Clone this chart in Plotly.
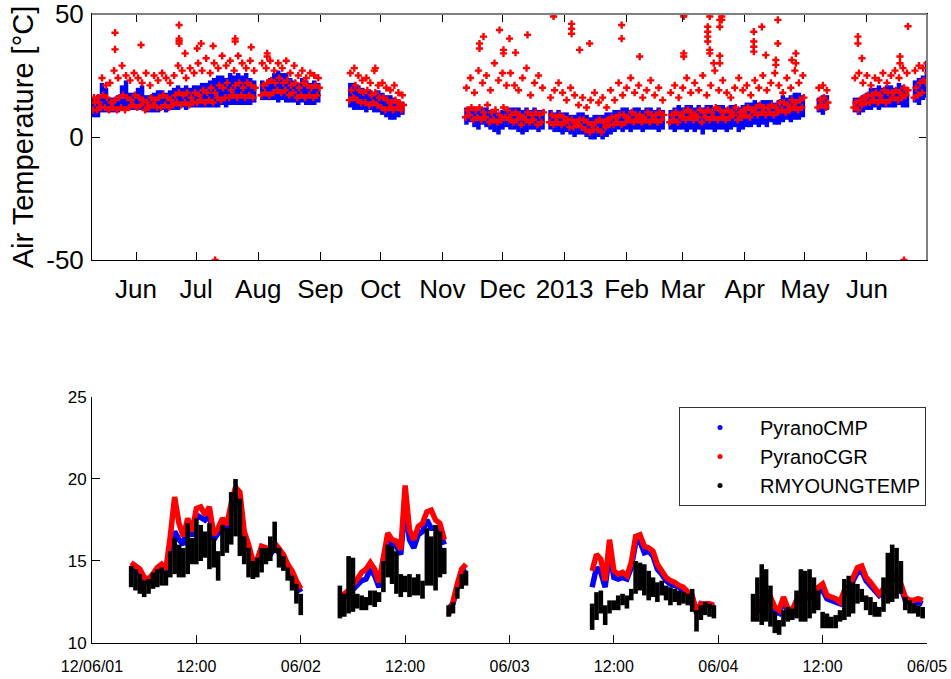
import pandas as pd
import plotly.graph_objects as go

# ---------------- TOP PANEL DATA (2-day bins from 2012-05-10) ----------------
top_start = "2012-05-10"
N = None
blue_lo = [8, 8, 10, 10, 10, 10, 10, 11, 11, 11,
           11, 11, 11, 10, 10, 10, 10, 11, 10, 11,
           11, 11, 12, 11, 12, 12, 12, 12, 12, 12,
           12, 12, 13, 12, 13, 13, 13, 13, 13, 13,
           14, N, 15, 15, 15, 15, 14, 15, 14, 14,
           14, 13, 14, 13, 13, 13, 14, N, N, N,
           N, N, N, N, 12, 11, 11, 11, 10, 11,
           10, 10, 9, 8, 7, 7, 8, 9, N, N,
           N, N, N, N, N, N, N, N, N, N,
           N, N, N, 5, 6, 4, 3, 5, 4, 3,
           2, 1, 3, 4, 3, 3, 2, 1, 2, 3,
           3, 2, 3, N, 3, 2, 2, 1, 2, 1,
           0, 1, 1, 0, -1, -1, 0, -1, 0, 1,
           2, 3, 2, 3, 2, 3, 3, 2, 3, 3,
           3, 2, 3, N, 3, 2, 3, 3, 2, 3,
           2, 3, 1, 3, 3, 2, 3, 3, 2, 3,
           4, 2, 3, 4, 4, 5, 4, 5, 4, 6,
           5, 5, 6, 7, 6, 7, 7, 8, N, N,
           N, 10, 9, 11, N, N, N, N, N, N,
           10, 9, 10, 11, 11, 12, 11, 12, 12, 12,
           12, 13, 12, 12, N, 14, 13, 15, 16]
blue_hi = [16, 17, 22, 20, 16, 16, 17, 21, 23, 18,
           18, 20, 21, 17, 17, 18, 19, 19, 18, 19,
           20, 21, 20, 21, 20, 21, 21, 22, 22, 23,
           24, 25, 25, 24, 26, 25, 26, 25, 26, 24,
           23, N, 23, 22, 24, 26, 27, 26, 26, 24,
           23, 22, 24, 23, 22, 23, 22, N, N, N,
           N, N, N, N, 22, 22, 21, 20, 19, 19,
           18, 19, 18, 17, 17, 16, 15, 14, N, N,
           N, N, N, N, N, N, N, N, N, N,
           N, N, N, 12, 12, 12, 11, 12, 12, 11,
           11, 10, 11, 11, 12, 12, 12, 11, 12, 11,
           12, 11, 11, N, 11, 10, 11, 10, 10, 9,
           9, 10, 10, 9, 8, 9, 9, 9, 10, 10,
           11, 11, 12, 12, 11, 12, 12, 11, 12, 12,
           11, 12, 11, N, 11, 12, 13, 12, 13, 13,
           12, 13, 12, 13, 13, 12, 13, 13, 12, 13,
           13, 12, 13, 14, 14, 15, 14, 15, 15, 15,
           14, 15, 17, 16, 17, 18, 18, 17, N, N,
           N, 16, 17, 17, N, N, N, N, N, N,
           16, 16, 17, 18, 20, 20, 21, 20, 21, 21,
           20, 22, 21, 20, N, 23, 24, 25, 31]
red_a = [11, 11, 12, 12, 11, 12, 11, 12, 11, 12,
         13, 12, 13, 11, 12, 13, 12, 12, 13, 12,
         13, 14, 13, 14, 13, 14, 14, 15, 14, 15,
         14, 16, 15, 16, 16, 17, 16, 17, 16, 17,
         16, N, 17, 18, 17, 18, 19, 18, 19, 17,
         18, 16, 17, 16, 17, 16, 17, N, N, N,
         N, N, N, N, 15, 16, 15, 14, 14, 13,
         14, 13, 12, 11, 12, 11, 12, 11, N, N,
         N, N, N, N, N, N, N, N, N, N,
         N, N, N, 8, 9, 7, 8, 7, 8, 6,
         7, 6, 7, 8, 7, 6, 7, 5, 7, 6,
         7, 5, 6, N, 6, 5, 6, 5, 6, 4,
         4, 5, 4, 3, 2, 3, 3, 2, 4, 5,
         5, 6, 5, 6, 7, 6, 7, 6, 7, 6,
         7, 6, 7, N, 6, 7, 6, 8, 7, 8,
         7, 8, 6, 8, 7, 8, 7, 8, 7, 8,
         9, 7, 8, 9, 8, 10, 9, 10, 9, 10,
         9, 10, 11, 10, 11, 12, 11, 12, N, N,
         N, 12, 13, 12, N, N, N, N, N, N,
         12, 11, 13, 14, 14, 15, 14, 15, 14, 15,
         16, 15, 16, 17, N, 16, 17, 18, 22]
red_b = [14, 14, 17, 16, 14, 15, 16, 17, 16, 15,
         17, 16, 15, 14, 16, 15, 16, 17, 16, 15,
         17, 18, 17, 18, 16, 18, 17, 19, 18, 20,
         18, 21, 20, 22, 19, 21, 22, 20, 22, 21,
         20, N, 21, 22, 23, 22, 24, 22, 23, 21,
         22, 20, 22, 21, 20, 21, 20, N, N, N,
         N, N, N, N, 19, 21, 19, 18, 19, 17,
         18, 16, 16, 15, 14, 15, 14, 13, N, N,
         N, N, N, N, N, N, N, N, N, N,
         N, N, N, 11, 12, 11, 12, 10, 13, 10,
         11, 9, 12, 11, 9, 10, 9, 8, 10, 9,
         10, 9, 10, N, 9, 8, 9, 8, 7, 7,
         6, 7, 7, 6, 5, 6, 7, 6, 7, 8,
         8, 9, 9, 8, 10, 9, 9, 8, 10, 9,
         9, 10, 9, N, 9, 10, 9, 10, 11, 10,
         9, 11, 10, 11, 10, 12, 11, 10, 11, 10,
         12, 10, 11, 12, 11, 12, 13, 12, 12, 13,
         12, 14, 14, 13, 15, 14, 15, 16, N, N,
         N, 15, 16, 14, N, N, N, N, N, N,
         14, 15, 16, 17, 17, 18, 17, 19, 18, 18,
         19, 18, 20, 19, N, 20, 22, 23, 26]
red_c = [16, 16, 24, 21, 22, 27, 24, 29, 25, 23,
         26, 24, 22, 26, 21, 25, 23, 26, 24, 22,
         25, 29, 27, 24, 28, 26, 30, 27, 32, 26,
         30, 28, 33, 29, 31, 27, 33, 30, 28, 31,
         27, N, 30, 28, 31, 27, 30, 28, 31, 26,
         29, 25, 27, 24, 26, 25, 24, N, N, N,
         N, N, N, N, 26, 28, 25, 23, 24, 22,
         27, 21, 22, 20, 19, 21, 18, 17, N, N,
         N, N, N, N, N, N, N, N, N, N,
         N, N, N, 20, 24, 18, 27, 22, 25, 19,
         30, 23, 26, 21, 26, 21, 19, 24, 28, 17,
         22, 25, 20, N, 16, 19, 22, 18, 15, 20,
         17, 13, 16, 12, 15, 18, 14, 16, 12, 19,
         15, 22, 17, 20, 24, 18, 21, 16, 19, 23,
         17, 20, 15, N, 18, 21, 16, 20, 24, 18,
         22, 19, 25, 17, 21, 27, 19, 23, 18, 16,
         20, 24, 19, 21, 17, 23, 20, 25, 19, 22,
         26, 21, 18, 24, 20, 27, 22, 25, N, N,
         N, 20, 21, 19, N, N, N, N, N, N,
         24, 26, 22, 25, 21, 24, 23, 26, 22, 25,
         27, 24, 28, 26, N, 27, 29, 28, 30]
red_out_dates = ["2012-05-21", "2012-06-03", "2012-06-22", "2012-06-25", "2012-07-01",
                 "2012-07-03", "2012-07-09", "2012-07-10", "2012-07-20", "2012-07-28",
                 "2012-08-05", "2012-09-28", "2012-11-19", "2012-11-21", "2012-11-29",
                 "2012-12-01", "2012-12-04", "2012-12-07", "2012-12-13", "2012-12-26",
                 "2013-01-04", "2013-01-08", "2013-01-13", "2013-01-29", "2013-02-07",
                 "2013-03-01", "2013-03-13", "2013-03-14", "2013-03-16", "2013-03-19",
                 "2013-03-20", "2013-04-05", "2013-04-09", "2013-04-11", "2013-04-16",
                 "2013-04-17", "2013-04-24", "2013-04-26", "2013-05-27", "2013-05-29",
                 "2013-06-17", "2013-06-19", "2013-06-21"]
red_out_vals = [[42.4, 35.6], [37.4], [45.5, 40, 39, 38], [34], [36],
                [38], [37], [-50], [40, 38.8], [36.5],
                [34, 32.7], [28], [38, 36], [40.8], [43.5],
                [35.4, 34], [40], [34.3], [41.5], [49],
                [46, 44, 42], [35.4], [38], [45.5, 40], [32.7],
                [49.8, 49, 34, 32.7], [44.8, 42.8, 40.8, 38.8], [49, 35.4, 34], [30], [47.6, 44.8, 33, 30],
                [49, 47.6], [42.8, 38.8, 36.7, 34.7], [44.8], [33.3], [31.3, 29.3],
                [47.6, 38], [31.3], [34, 30], [40.8, 38], [32],
                [32.7, 30], [-50], [45]]

top_tick_dates = ["2012-06-01", "2012-07-01", "2012-08-01", "2012-09-01", "2012-10-01",
                  "2012-11-01", "2012-12-01", "2013-01-01", "2013-02-01", "2013-03-01",
                  "2013-04-01", "2013-05-01", "2013-06-01"]
top_tick_text = ["Jun", "Jul", "Aug", "Sep", "Oct", "Nov", "Dec", "2013", "Feb", "Mar",
                 "Apr", "May", "Jun"]
top_y_ticks = [-50, 0, 50]
top_y_text = ["-50", "0", "50"]

# ---------------- BOTTOM PANEL DATA (30-min samples) ----------------
seg_starts = ["2012-06-01 04:30", "2012-06-02 04:30", "2012-06-02 17:00",
              "2012-06-03 09:30", "2012-06-04 04:00"]
cgr_vals = [
    [14.9, 14.7, 14.5, 14.0, 13.9, 14.2, 14.6, 14.8, 14.5, 16.5,
     18.9, 17.3, 16.5, 17.6, 16.8, 18.2, 18.3, 17.8, 18.3, 16.6,
     17.0, 17.6, 17.2, 18.5, 19.5, 19.2, 16.8, 16.0, 15.0, 15.1,
     15.9, 15.8, 15.7, 16.1, 15.8, 15.4, 14.8, 14.4, 13.8, 13.3],
    [12.6, 13.0, 13.2, 13.5, 13.9, 14.3, 14.5, 14.9, 14.5, 13.7,
     15.4, 16.7, 16.3, 16.2, 15.7, 19.6, 16.9, 16.3, 17.1, 17.3,
     18.0, 18.1, 17.5, 17.3, 16.3],
    [11.7, 12.5, 13.6, 14.5, 14.8],
    [14.4, 15.4, 15.1, 13.8, 16.3, 14.4, 14.2, 14.3, 14.1, 14.9,
     16.5, 16.6, 15.9, 15.8, 15.6, 14.8, 14.4, 14.0, 13.8, 13.7,
     13.5, 13.4, 13.1, 12.9, 11.8, 12.4, 12.4, 12.4, 12.3],
    [11.5, 12.0, 12.6, 13.2, 12.8, 12.2, 12.0, 12.8, 12.1, 12.0,
     12.6, 12.8, 12.9, 13.0, 13.0, 13.4, 13.6, 12.9, 12.8, 12.7,
     12.5, 13.2, 13.4, 14.0, 14.6, 14.7, 14.0, 13.7, 13.4, 13.0,
     13.3, 13.8, 14.2, 14.0, 13.6, 12.8, 12.6, 12.6, 12.7, 12.6]]
cmp_vals = [
    [14.7, 14.5, 14.3, 13.8, 13.7, 14.0, 14.4, 14.6, 14.3, 15.8,
     16.8, 16.3, 16.0, 17.2, 16.5, 17.8, 17.6, 17.5, 17.8, 16.3,
     16.7, 17.3, 16.9, 18.2, 18.9, 18.6, 16.5, 15.8, 14.8, 14.9,
     15.6, 15.6, 15.4, 15.8, 15.5, 15.2, 14.6, 14.2, 13.6, 13.1],
    [12.4, 12.8, 13.0, 13.3, 13.6, 13.8, 13.9, 14.5, 14.1, 13.4,
     15.1, 16.3, 16.0, 15.9, 15.4, 18.4, 16.3, 15.8, 16.6, 16.8,
     17.5, 17.0, 17.0, 16.8, 16.0],
    [12.1, 12.4, 13.4, 14.3, 14.5],
    [13.4, 14.6, 14.3, 13.4, 15.5, 14.0, 13.9, 14.0, 13.9, 14.6,
     16.1, 16.2, 15.5, 15.6, 15.3, 14.5, 14.2, 13.8, 13.6, 13.5,
     13.4, 13.2, 13.0, 12.8, 11.9, 12.4, 12.3, 12.3, 12.2],
    [11.4, 11.9, 12.4, 13.0, 12.6, 11.9, 11.8, 12.6, 11.9, 11.8,
     12.4, 12.6, 12.7, 12.8, 12.8, 13.1, 13.2, 12.7, 12.6, 12.5,
     12.4, 13.0, 13.2, 13.8, 14.3, 14.4, 13.8, 13.5, 13.2, 12.9,
     13.1, 13.6, 14.0, 13.8, 13.4, 12.6, 12.5, 12.4, 12.5, 12.4]]
rmy_lo = [
    [13.4, 13.2, 13.0, 12.8, 13.0, 13.3, 13.4, 13.5, 13.5, 14.0,
     14.2, 14.0, 14.0, 14.2, 14.8, 14.8, 15.0, 15.2, 14.5, 14.6,
     13.8, 15.3, 15.5, 16.0, 16.5, 15.3, 14.8, 14.0, 13.9, 14.0,
     14.3, 14.8, 15.0, 15.5, 14.6, 14.4, 13.8, 13.2, 12.4, 11.7],
    [11.5, 11.6, 11.8, 11.9, 12.1, 12.0, 12.0, 12.3, 12.2, 12.5,
     13.1, 14.0, 13.6, 13.0, 12.8, 13.1, 12.8, 12.9, 12.9, 12.7,
     13.5, 13.5, 13.2, 14.0, 14.2],
    [11.6, 11.8, 12.7, 13.3, 13.5],
    [10.8, 11.4, 11.8, 11.1, 11.8, 12.0, 12.0, 12.3, 12.1, 12.6,
     13.0, 13.2, 12.9, 12.6, 12.8, 12.5, 12.9, 12.6, 12.3, 12.5,
     12.3, 12.4, 12.3, 11.9, 10.7, 11.4, 11.7, 11.6, 11.5],
    [11.3, 11.3, 11.1, 11.3, 11.0, 10.6, 10.5, 11.0, 11.3, 11.4,
     11.5, 11.3, 11.3, 11.5, 11.8, 12.0, 10.9, 10.9, 10.9, 10.9,
     11.3, 11.4, 11.6, 11.8, 12.4, 12.5, 12.0, 11.7, 11.6, 11.6,
     11.9, 12.4, 12.5, 12.7, 13.0, 12.0, 11.8, 11.8, 11.6, 11.5]]
rmy_hi = [
    [14.7, 14.5, 14.2, 13.8, 13.9, 14.3, 14.5, 14.6, 14.4, 15.6,
     16.4, 16.0, 15.8, 17.3, 16.4, 17.6, 17.2, 16.8, 17.3, 16.4,
     15.6, 17.2, 17.0, 19.2, 20.0, 18.8, 16.5, 15.8, 15.0, 15.2,
     15.8, 15.8, 16.5, 17.4, 15.8, 15.3, 14.6, 14.1, 13.6, 13.0],
    [13.5, 13.0, 15.3, 15.2, 13.0, 12.9, 12.8, 13.2, 13.2, 13.1,
     15.0, 16.0, 15.9, 15.6, 14.2, 14.1, 14.2, 14.0, 14.2, 13.8,
     17.0, 16.5, 17.2, 16.8, 15.8],
    [12.3, 12.5, 13.4, 14.2, 14.4],
    [12.4, 13.1, 13.2, 12.3, 12.6, 12.6, 12.9, 13.0, 12.9, 13.3,
     15.0, 14.9, 14.8, 14.4, 14.0, 13.7, 13.8, 13.5, 13.4, 13.3,
     13.2, 13.1, 13.0, 13.3, 12.0, 12.3, 12.5, 12.4, 12.3],
    [13.0, 14.0, 14.8, 14.5, 13.5, 11.9, 11.4, 12.0, 12.2, 12.1,
     13.2, 14.5, 14.4, 14.5, 14.0, 13.2, 11.9, 11.8, 11.6, 11.7,
     12.0, 13.9, 14.1, 13.7, 13.6, 13.3, 12.9, 12.8, 12.5, 12.2,
     14.0, 15.5, 16.0, 15.8, 15.0, 12.8, 12.6, 12.4, 12.3, 12.2]]

bot_tick_vals = ["2012-06-01 00:00", "2012-06-01 12:00", "2012-06-02 00:00", "2012-06-02 12:00",
                 "2012-06-03 00:00", "2012-06-03 12:00", "2012-06-04 00:00", "2012-06-04 12:00",
                 "2012-06-05 00:00"]
bot_tick_text = ["12/06/01", "12:00", "06/02", "12:00", "06/03", "12:00", "06/04", "12:00", "06/05"]
bot_y_ticks = [10, 15, 20, 25]
series_names = ["PyranoCMP", "PyranoCGR", "RMYOUNGTEMP"]
series_colors = ["#0000ff", "#ff0000", "#000000"]

# ---------------- BUILD TRACES ----------------
FONT = "Liberation Sans, Arial, Helvetica, sans-serif"
t0 = pd.Timestamp(top_start)
top_dates = [t0 + pd.Timedelta(days=2 * k) for k in range(len(blue_lo))]

bx, by = [], []
for d, lo, hi in zip(top_dates, blue_lo, blue_hi):
    if lo is None:
        continue
    c = d + pd.Timedelta(days=1)
    bx += [c, c, None]
    by += [lo, hi, None]

rx, ry = [], []
for d, a, b, c in zip(top_dates, red_a, red_b, red_c):
    for v, off in ((a, 0.5), (b, 1.5), (c, 1.0)):
        if v is not None:
            rx.append(d + pd.Timedelta(days=off))
            ry.append(v)
for ds, vals in zip(red_out_dates, red_out_vals):
    for v in vals:
        rx.append(pd.Timestamp(ds) + pd.Timedelta(hours=12))
        ry.append(v)

fig = go.Figure()
fig.add_trace(go.Scatter(x=bx, y=by, mode="lines", line=dict(color="#0000ff", width=4.5),
                         showlegend=False, xaxis="x", yaxis="y", hoverinfo="skip"))
fig.add_trace(go.Scatter(x=rx, y=ry, mode="markers",
                         marker=dict(symbol="cross", size=6, color="#ff0000", line=dict(width=0)),
                         showlegend=False, xaxis="x", yaxis="y", cliponaxis=True))


def seg_times(start, n):
    return list(pd.date_range(start, periods=n, freq="30min"))


def line_xy(vals_list):
    xs, ys = [], []
    for st, vals in zip(seg_starts, vals_list):
        xs += seg_times(st, len(vals)) + [None]
        ys += list(vals) + [None]
    return xs, ys


cx, cy = line_xy(cmp_vals)
gx, gy = line_xy(cgr_vals)
fig.add_trace(go.Scatter(x=cx, y=cy, mode="lines", line=dict(color=series_colors[0], width=5.5),
                         showlegend=False, xaxis="x2", yaxis="y2"))
fig.add_trace(go.Scatter(x=gx, y=gy, mode="lines", line=dict(color=series_colors[1], width=5.5),
                         showlegend=False, xaxis="x2", yaxis="y2"))
kx, ky = [], []
for st, los, his in zip(seg_starts, rmy_lo, rmy_hi):
    for t, lo, hi in zip(seg_times(st, len(los)), los, his):
        kx += [t, t, None]
        ky += [lo, hi, None]
fig.add_trace(go.Scatter(x=kx, y=ky, mode="lines", line=dict(color=series_colors[2], width=4.6),
                         showlegend=False, xaxis="x2", yaxis="y2"))

for i, (nm, col) in enumerate(zip(series_names, series_colors)):
    fig.add_trace(go.Scatter(x=[None], y=[None], mode="markers", name=nm,
                             legendgroup=nm, marker=dict(color=col, size=5),
                             xaxis="x2", yaxis="y2"))

# ---------------- LAYOUT ----------------
axis_common = dict(showgrid=False, zeroline=False, ticks="inside", ticklen=8,
                   linecolor="#000000", linewidth=1, tickcolor="#000000", showline=True,
                   automargin=False, ticklabeloverflow="allow")

fig.update_layout(
    width=951, height=679,
    margin=dict(l=92, r=24, t=14, b=36),
    paper_bgcolor="white", plot_bgcolor="white",
    font=dict(family=FONT, color="#000000"),
    xaxis=dict(domain=[0, 1], anchor="y", range=["2012-05-10", "2013-07-01"],
               tickmode="array", tickvals=top_tick_dates, ticktext=top_tick_text,
               tickfont=dict(size=26), mirror="ticks", ticklabelstandoff=6, **axis_common),
    yaxis=dict(domain=[0.6089, 1.0], anchor="x", range=[-50, 50],
               tickmode="array", tickvals=top_y_ticks, ticktext=top_y_text,
               tickfont=dict(size=26), mirror="ticks", ticklabelstandoff=2,
               title=dict(text="Air Temperature [°C]", font=dict(size=29), standoff=4),
               **axis_common),
    xaxis2=dict(domain=[0, 1], anchor="y2", range=["2012-06-01", "2012-06-05"],
                tickmode="array", tickvals=bot_tick_vals, ticktext=bot_tick_text,
                tickfont=dict(size=16), ticklabelstandoff=9, **axis_common),
    yaxis2=dict(domain=[0, 0.3911], anchor="x2", range=[10, 25],
                tickmode="array", tickvals=bot_y_ticks,
                tickfont=dict(size=17), ticklabelstandoff=1, **axis_common),
    legend=dict(x=0.703, y=0.3752, xanchor="left", yanchor="top",
                bordercolor="#333333", borderwidth=1, bgcolor="white",
                font=dict(family=FONT, size=20), itemwidth=70,
                traceorder="grouped", tracegroupgap=0),
    shapes=[
        dict(type="line", xref="x domain", yref="y domain", x0=0, x1=1, y0=1, y1=1,
             line=dict(color="#808080", width=2), layer="above"),
        dict(type="line", xref="x domain", yref="y domain", x0=1, x1=1, y0=0, y1=1,
             line=dict(color="#808080", width=2), layer="above"),
    ],
)

fig.write_html("out.html")
